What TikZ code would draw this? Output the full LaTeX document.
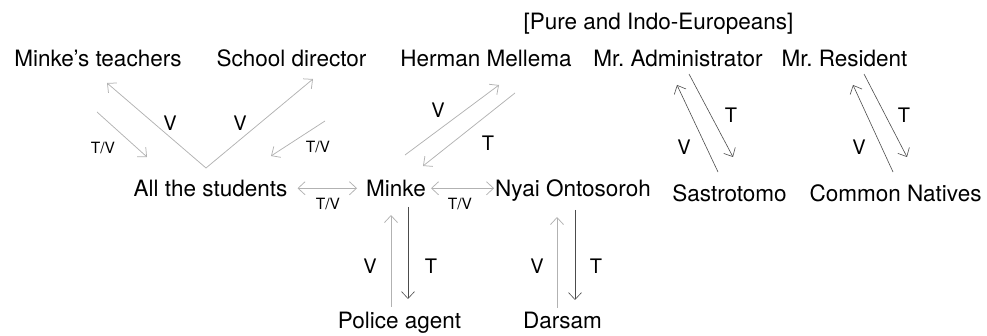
\documentclass[tikz,border=0pt]{standalone}
\usepackage{fontspec}
\setmainfont{TeX Gyre Heros}
\usetikzlibrary{arrows.meta}

\begin{document}
\begin{tikzpicture}[x=1pt, y=-1pt, >={Straight Barb[length=7pt,width=13pt]},
    actor/.style={font=\fontsize{22.5}{27}\selectfont, inner sep=0pt,
        text height=16.5pt, text depth=0pt, anchor=base},
    tag/.style={font=\fontsize{20}{24}\selectfont, inner sep=0pt},
    smalltag/.style={font=\fontsize{15.5}{18}\selectfont, inner sep=0pt},
    vline/.style={draw=gray!60, line width=0.75pt},
    tline/.style={draw=black!70, line width=0.6pt}]

    % --- Frame ---
    \useasboundingbox (0,0) rectangle (987,336);

    % --- Characters ---
    \node[actor] (pure) at (658.5,29.5) {[Pure and Indo-Europeans]};
    \node[actor] (teachers) at (98,66.5) {Minke’s teachers};
    \node[actor] (director) at (291.5,66.5) {School director};
    \node[actor] (herman) at (486,66.5) {Herman Mellema};
    \node[actor] (admin) at (678,66.5) {Mr.\ Administrator};
    \node[actor] (resident) at (844.5,66.5) {Mr.\ Resident};
    \node[actor] (students) at (210.5,196.5) {All the students};
    \node[actor] (minke) at (396,196.5) {Minke};
    \node[actor] (nyai) at (573,196.5) {Nyai Ontosoroh};
    \node[actor] (sastro) at (729.5,201.5) {Sastrotomo};
    \node[actor] (natives) at (895.5,201.5) {Common Natives};
    \node[actor] (police) at (399.5,328) {Police agent};
    \node[actor] (darsam) at (562.5,328) {Darsam};

    % --- Arrow ends ---
    % V shape under the teachers and the director
    \coordinate (vtx) at (206,168);
    \coordinate (teachV) at (107,83);
    \coordinate (dirV) at (313,79);
    \coordinate (teachA) at (97,112);
    \coordinate (teachB) at (147,157);
    \coordinate (dirA) at (325,121);
    \coordinate (dirB) at (271,156);
    % Herman Mellema and Minke
    \coordinate (hermVa) at (405,155);
    \coordinate (hermVb) at (499,85);
    \coordinate (hermTa) at (515,93);
    \coordinate (hermTb) at (423,166);
    % Administrator and Sastrotomo
    \coordinate (admVa) at (718,172);
    \coordinate (admVb) at (677,85);
    \coordinate (admTa) at (689,74);
    \coordinate (admTb) at (733,157);
    % Resident and the natives
    \coordinate (resVa) at (893,172);
    \coordinate (resVb) at (853,85);
    \coordinate (resTa) at (864,74);
    \coordinate (resTb) at (907,157);
    % Police agent and Darsam
    \coordinate (polVa) at (391,307);
    \coordinate (polVb) at (391,215);
    \coordinate (polTa) at (408,207);
    \coordinate (polTb) at (408,299);
    \coordinate (darVa) at (557,308);
    \coordinate (darVb) at (557,217);
    \coordinate (darTa) at (575,210);
    \coordinate (darTb) at (575,300);

    % --- Drawing ---

    % 1. Students towards teachers and director
    \draw[vline, ->] (vtx) -- (teachV);
    \draw[vline, ->] (vtx) -- (dirV);
    \draw[vline, ->] (teachA) -- (teachB);
    \draw[vline, ->] (dirA) -- (dirB);

    % 2. Exchanges on the middle row
    \draw[vline, <->, shorten <=10pt, shorten >=9pt] (students.east) -- (minke.west);
    \draw[vline, <->, shorten <=5pt, shorten >=1pt] (minke.east) -- (nyai.west);

    % 3. Minke and Herman Mellema
    \draw[vline, ->] (hermVa) -- (hermVb);
    \draw[vline, ->] (hermTa) -- (hermTb);

    % 4. Administrator and Resident
    \draw[tline, ->] (admVa) -- (admVb);
    \draw[tline, ->] (admTa) -- (admTb);
    \draw[tline, ->] (resVa) -- (resVb);
    \draw[tline, ->] (resTa) -- (resTb);

    % 5. Police agent and Darsam
    \draw[vline, ->] (polVa) -- (polVb);
    \draw[tline, ->] (polTa) -- (polTb);
    \draw[vline, ->] (darVa) -- (darVb);
    \draw[tline, ->] (darTa) -- (darTb);

    % --- Labels ---
    \node[tag] (lv1) at (170,123) {V};
    \node[tag] (lv2) at (240,123) {V};
    \node[smalltag] (ltv1) at (103,148) {T/V};
    \node[smalltag] (ltv2) at (318,147) {T/V};
    \node[smalltag] (ltv3) at (328,204) {T/V};
    \node[smalltag] (ltv4) at (460,204) {T/V};
    \node[tag] (lv3) at (438,110) {V};
    \node[tag] (lt3) at (488,143) {T};
    \node[tag] (lt4) at (731,115) {T};
    \node[tag] (lv4) at (684,147) {V};
    \node[tag] (lt5) at (904,115) {T};
    \node[tag] (lv5) at (859,147) {V};
    \node[tag] (lv6) at (370,266) {V};
    \node[tag] (lt6) at (431,266) {T};
    \node[tag] (lv7) at (537,266) {V};
    \node[tag] (lt7) at (596,266) {T};

\end{tikzpicture}
\end{document}
